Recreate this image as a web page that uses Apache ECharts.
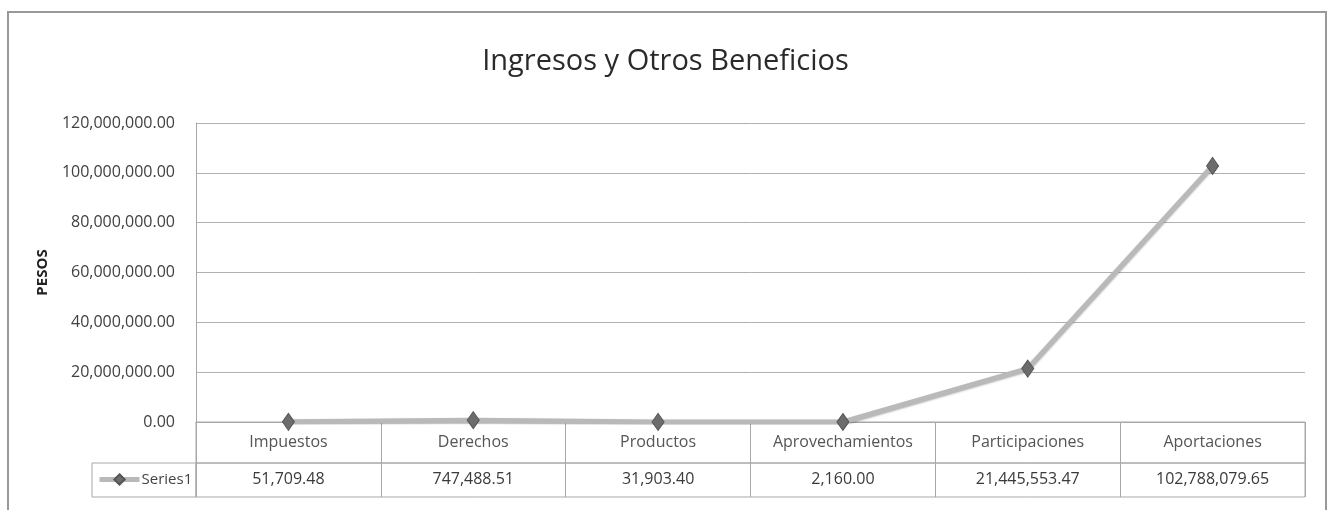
<!DOCTYPE html>
<html>
<head>
<meta charset="utf-8">
<style>
  html, body { margin: 0; padding: 0; background: #ffffff; }
  #chart { width: 1331px; height: 510px; }
</style>
<script src="https://cdn.jsdelivr.net/npm/echarts@6/dist/echarts.min.js"></script>
</head>
<body>
<div id="chart"></div>
<script>
// Ingresos y Otros Beneficios, in pesos
const categories = ['Impuestos', 'Derechos', 'Productos', 'Aprovechamientos', 'Participaciones', 'Aportaciones'];
const series1 = [51709.48, 747488.51, 31903.40, 2160.00, 21445553.47, 102788079.65];
const seriesName = 'Series1';
const yTicks = { min: 0, max: 120000000, interval: 20000000 };

const FONT = "'Open Sans', 'Noto Sans', sans-serif";
const GRID_LINE = '#b0b0b0';
const TABLE_LINE = '#a8a8a8';

// 1234567.5 -> "1,234,567.50"
function money(v) {
  const parts = Number(v).toFixed(2).split('.');
  parts[0] = parts[0].replace(/\B(?=(\d{3})+(?!\d))/g, ',');
  return parts.join('.');
}

const chart = echarts.init(document.getElementById('chart'), null, { renderer: 'canvas' });

const plot = { left: 196, right: 26, top: 123, height: 299 };
const rowCat = { top: plot.top + plot.height, height: 41 };
const rowVal = { top: rowCat.top + rowCat.height, height: 34 };

const lineStyle = { color: '#b9b9b9', width: 5, shadowColor: 'rgba(0,0,0,0.3)', shadowBlur: 2, shadowOffsetY: 1 };
const itemStyle = { color: '#6c6c6c', borderColor: '#555', borderWidth: 1 };

chart.setOption({
  backgroundColor: '#ffffff',
  animation: false,
  title: {
    text: 'Ingresos y Otros Beneficios',
    left: 'center',
    top: 42,
    textStyle: { fontFamily: FONT, fontSize: 29, fontWeight: 'normal', color: '#2a2a2a' }
  },
  legend: {
    data: [seriesName],
    left: 92,
    top: rowVal.top + 4,
    itemWidth: 40,
    itemHeight: 13,
    itemGap: 2,
    lineStyle: { color: '#b9b9b9', width: 5 },
    itemStyle: { color: '#6c6c6c' },
    textStyle: { fontFamily: FONT, fontSize: 15, color: '#444', padding: [0, 0, 0, -3] }
  },
  grid: [
    { left: plot.left, right: plot.right, top: plot.top, height: plot.height },
    { left: plot.left, right: plot.right, top: rowCat.top, height: rowCat.height,
      show: true, borderColor: TABLE_LINE, borderWidth: 1 },
    { left: plot.left, right: plot.right, top: rowVal.top, height: rowVal.height,
      show: true, borderColor: TABLE_LINE, borderWidth: 1 }
  ],
  xAxis: [
    {
      gridIndex: 0, type: 'category', data: categories, boundaryGap: true,
      axisLine: { show: true, lineStyle: { color: TABLE_LINE } },
      axisTick: { show: false },
      axisLabel: { margin: 12, fontFamily: FONT, fontSize: 16, color: '#555' }
    },
    {
      gridIndex: 1, type: 'category', data: categories, boundaryGap: true,
      axisLine: { show: false }, axisTick: { show: false }, axisLabel: { show: false },
      splitLine: { show: true, lineStyle: { color: TABLE_LINE } }
    },
    {
      gridIndex: 2, type: 'category', data: series1.map(money), boundaryGap: true,
      axisLine: { show: false }, axisTick: { show: false },
      axisLabel: { margin: -26, fontFamily: FONT, fontSize: 16, color: '#3a3a3a' },
      splitLine: { show: true, lineStyle: { color: TABLE_LINE } }
    }
  ],
  yAxis: [
    {
      gridIndex: 0, type: 'value',
      min: yTicks.min, max: yTicks.max, interval: yTicks.interval,
      name: 'PESOS', nameLocation: 'middle', nameRotate: 90, nameGap: 146,
      nameMoveOverlap: false,
      nameTextStyle: { fontFamily: FONT, fontSize: 15, fontWeight: 'bold', color: '#222' },
      axisLine: { show: true, lineStyle: { color: TABLE_LINE } },
      axisTick: { show: false },
      axisLabel: { margin: 21, fontFamily: FONT, fontSize: 16, color: '#404040', formatter: money },
      splitLine: { show: true, lineStyle: { color: GRID_LINE, width: 1 } }
    },
    { gridIndex: 1, type: 'value', show: false, splitLine: { show: false } },
    { gridIndex: 2, type: 'value', show: false, splitLine: { show: false } }
  ],
  series: [
    {
      name: seriesName,
      type: 'line',
      xAxisIndex: 0, yAxisIndex: 0,
      data: series1,
      symbol: 'diamond',
      symbolSize: [12, 17],
      itemStyle: itemStyle,
      lineStyle: lineStyle,
      z: 3
    }
  ],
  graphic: [
    // outer frame of the chart area
    { type: 'rect', shape: { x: 8, y: 12, width: 1318, height: 520 },
      style: { fill: 'none', stroke: '#999', lineWidth: 2 }, silent: true },
    // legend key cell of the data table
    { type: 'rect', shape: { x: 92, y: rowVal.top, width: plot.left - 92, height: rowVal.height },
      style: { fill: 'none', stroke: TABLE_LINE, lineWidth: 1 }, silent: true }
  ]
});
</script>
</body>
</html>
